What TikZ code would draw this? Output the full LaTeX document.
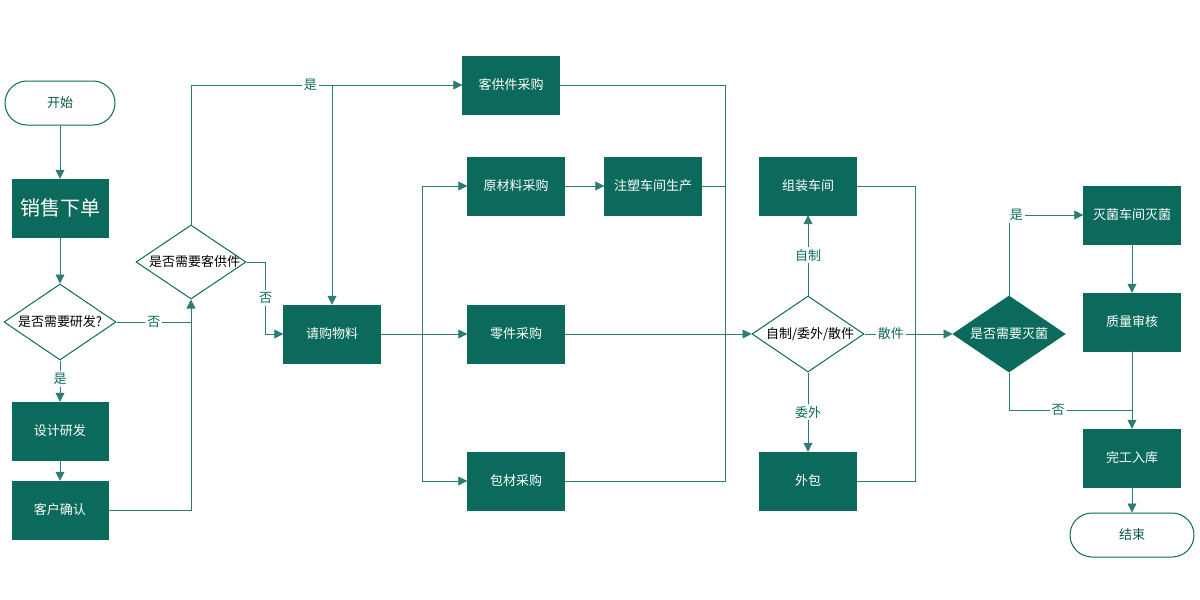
\documentclass[tikz,border=0pt]{standalone}
\usepackage{fontspec}
\setmainfont{Noto Sans CJK SC}
\usetikzlibrary{arrows.meta,shapes.geometric,calc}
\definecolor{boxgreen}{HTML}{0B6A5C}
\definecolor{linegreen}{HTML}{2E7D74}

\begin{document}
\begin{tikzpicture}[x=1pt, y=-1pt,
    box/.style={draw=boxgreen,fill=boxgreen,text=white,minimum width=97pt,
                minimum height=58pt,font=\fontsize{13}{15}\selectfont},
    terminal/.style={draw=boxgreen,line width=1pt,rounded corners=22pt,
                minimum height=44pt,text=boxgreen!80!black,font=\fontsize{13}{15}\selectfont},
    decision/.style={diamond,draw=boxgreen,line width=1pt,aspect=1.48,inner sep=0pt,
                minimum width=112pt,minimum height=76pt,text width=84pt,align=center,
                font=\fontsize{13}{15}\selectfont},
    flow/.style={draw=linegreen,line width=0.8pt},
    arrow/.style={flow,-{Triangle[length=9pt,width=9pt]}},
    lbl/.style={fill=white,text=boxgreen,font=\fontsize{13}{15}\selectfont,inner sep=2pt}]
  % Page frame
  \useasboundingbox (0,0) rectangle (1200,600);

  % Left column
  \node[terminal,minimum width=110pt] (start) at (60,103) {开始};
  \node[box,minimum width=96pt,font=\fontsize{20}{22}\selectfont] (order) at (60,208) {销售下单};
  \node[decision] (needrd) at (60,322) {是否需要研发?};
  \node[box,minimum width=96pt] (design) at (60,431) {设计研发};
  \node[box,minimum width=96pt] (confirm) at (60,510) {客户确认};
  \node[decision,minimum width=110pt,minimum height=74pt] (needcust) at (191,262) {是否需要客供件};

  % Purchasing
  \node[box] (request) at (332,334) {请购物料};
  \node[box] (custpart) at (511,85) {客供件采购};
  \node[box] (rawbuy) at (516,186) {原材料采购};
  \node[box] (molding) at (653,186) {注塑车间生产};
  \node[box] (partbuy) at (516,334) {零件采购};
  \node[box] (packbuy) at (516,481) {包材采购};

  % Production
  \node[decision] (makeway) at (808,334) {自制/委外/散件};
  \node[box] (assembly) at (808,186) {组装车间};
  \node[box] (outsrc) at (808,481) {外包};
  \node[decision,fill=boxgreen,text=white] (needster) at (1009,334) {是否需要灭菌};
  \node[box] (sterile) at (1132,215) {灭菌车间灭菌};
  \node[box] (quality) at (1132,322) {质量审核};
  \node[box] (finish) at (1132,458) {完工入库};
  \node[terminal,minimum width=124pt] (stop) at (1132,535) {结束};

  % Connectors, left part
  \draw[arrow] (start) -- (order);
  \draw[arrow] (order) -- (needrd);
  \draw[arrow] (needrd) -- node[lbl,pos=0.45] {是} (design);
  \draw[arrow] (design) -- (confirm);
  \draw[flow] (needrd.east) -- node[lbl] {否} (needrd.east -| needcust.south);
  \draw[arrow] (confirm.east) -| (needcust.south);
  \draw[arrow] (needcust.north) |- node[lbl,pos=0.72] {是} (custpart.west);
  \coordinate (jn) at (request.north |- custpart.west);
  \draw[arrow] (jn) -- (request.north);
  \draw[arrow] (needcust.east) -- ++(19,0) coordinate (nbend)
    -- node[lbl] {否} (nbend |- request.west) -- (request.west);

  % Fan out to purchasing
  \coordinate (fan) at (422,334);
  \draw[arrow] (request.east) -- (partbuy.west);
  \draw[arrow] (fan) |- (rawbuy.west);
  \draw[arrow] (fan) |- (packbuy.west);
  \draw[arrow] (rawbuy) -- (molding);

  % Gather to decision
  \coordinate (gather) at (725,334);
  \draw[flow] (custpart.east) -| (gather);
  \draw[flow] (molding.east) -| (gather);
  \draw[flow] (packbuy.east) -| (gather);
  \draw[arrow] (partbuy.east) -- (makeway.west);

  % Production branches
  \draw[arrow] (makeway) -- node[lbl] {自制} (assembly);
  \draw[arrow] (makeway) -- node[lbl] {委外} (outsrc);
  \coordinate (join) at (915,334);
  \draw[flow] (assembly.east) -| (join);
  \draw[flow] (outsrc.east) -| (join);
  \draw[arrow] (makeway.east) -- node[lbl,pos=0.3] {散件} (needster.west);

  % Sterilisation
  \draw[arrow] (needster.north) |- node[lbl,pos=0.55] {是} (sterile.west);
  \draw[arrow] (sterile) -- (quality);
  \draw[arrow] (quality) -- (finish);
  \draw[flow] (needster.south) |- node[lbl,pos=0.7] {否} (finish.north |- 0,410);
  \draw[arrow] (finish) -- (stop);
\end{tikzpicture}
\end{document}
